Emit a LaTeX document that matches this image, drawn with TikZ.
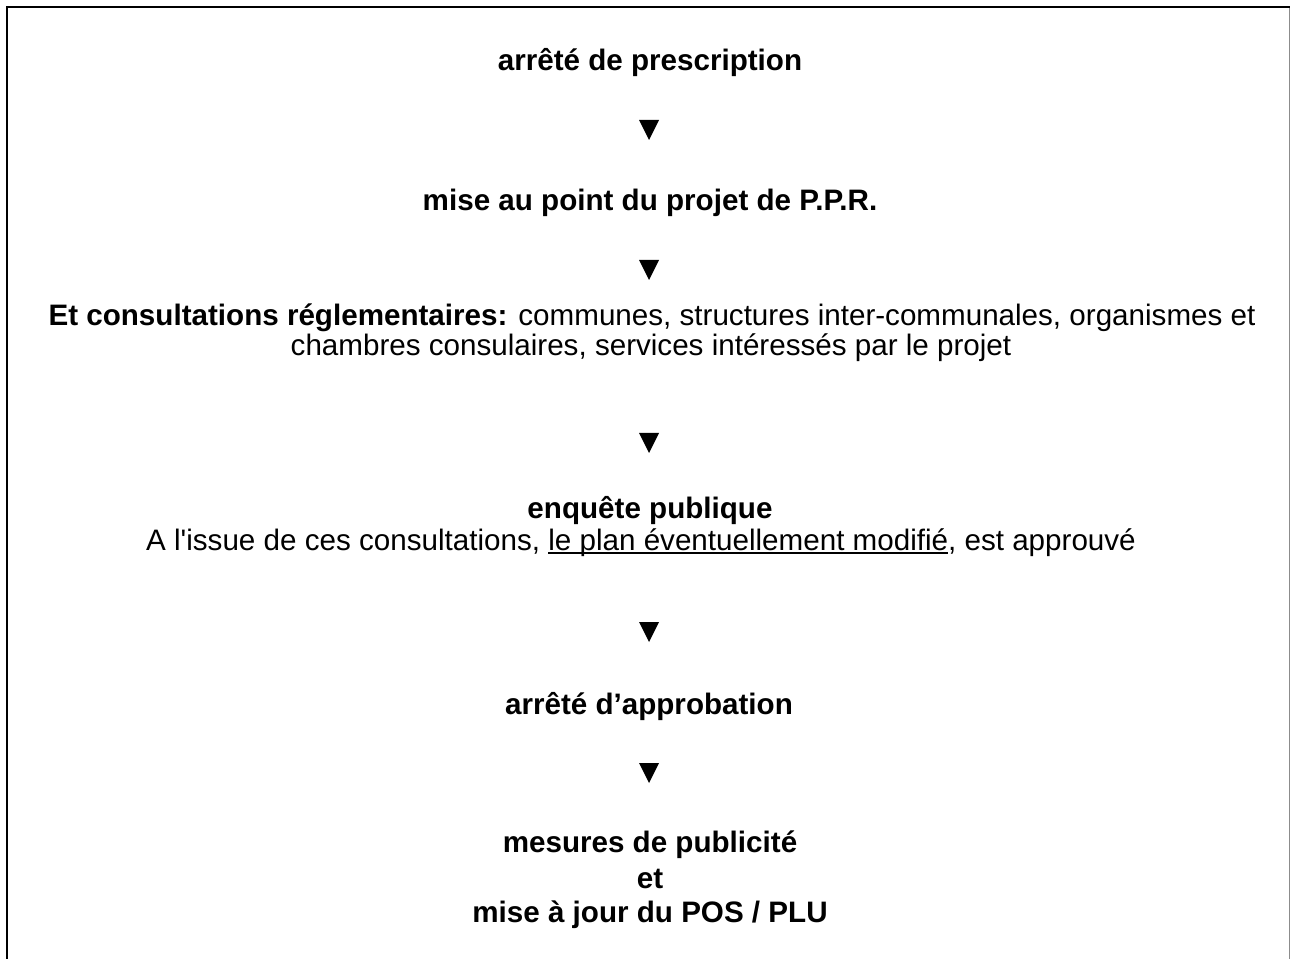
\documentclass[tikz,border=0pt]{standalone}
\usepackage{fontspec}
\setmainfont{Liberation Sans}[Ligatures=TeXOff]
\newcommand\myul[1]{\setbox0\hbox{#1}\rlap{\rule[-3.2pt]{\wd0}{1.5pt}}\box0}
\tikzset{
  downtri/.pic={\fill[black] (-10,-10) -- (10,-10) -- (0,10) -- cycle;},
  txt/.style={inner sep=0pt, outer sep=0pt, anchor=base, font=\fontsize{22.2}{30}\selectfont},
  bold/.style={txt, font=\fontsize{22.2}{30}\selectfont\bfseries},
  leftframe/.style={line width=1.7pt, draw=black},
  rightframe/.style={line width=0.9pt, draw=black!45}
}
\begin{document}
\begin{tikzpicture}[x=0.75pt,y=-0.75pt]
\useasboundingbox (0,0) rectangle (1290,959);
\fill[white] (0,0) rectangle (1290,959);
% frame
\coordinate (fbl) at (7,959);
\coordinate (ftl) at (7,6.7);
\coordinate (ftr) at (1290,6.7);
\coordinate (rtop) at (1289.3,6.7);
\coordinate (rbot) at (1289.3,959);
\draw[rightframe] (rtop) -- (rbot);
\draw[leftframe] (fbl) -- (ftl) -- (ftr);
% texts
\node[bold] (n1) at (650,71) {arrêté de prescription};
\pic (t1) at (649,130) {downtri};
\node[bold] (n2) at (650,211) {mise au point du projet de P.P.R.};
\pic (t2) at (649,270) {downtri};
\node[txt] (n3a) at (652,326) {\textbf{Et consultations réglementaires:} communes, structures inter-communales, organismes et};
\node[txt] (n3b) at (651,356) {chambres consulaires, services intéressés par le projet};
\pic (t3) at (649,443) {downtri};
\node[bold] (n4a) at (650,518) {enquête publique};
\node[txt] (n4b) at (641,550) {A l'issue de ces consultations, \myul{le plan éventuellement modifié}, est approuvé};
\pic (t4) at (649,632) {downtri};
\node[bold] (n5) at (649,714) {arrêté d’approbation};
\pic (t5) at (649,773) {downtri};
\node[bold] (n6a) at (650,852) {mesures de publicité};
\node[bold] (n6b) at (650,888) {et};
\node[bold] (n6c) at (650,922) {mise à jour du POS / PLU};
\end{tikzpicture}
\end{document}
